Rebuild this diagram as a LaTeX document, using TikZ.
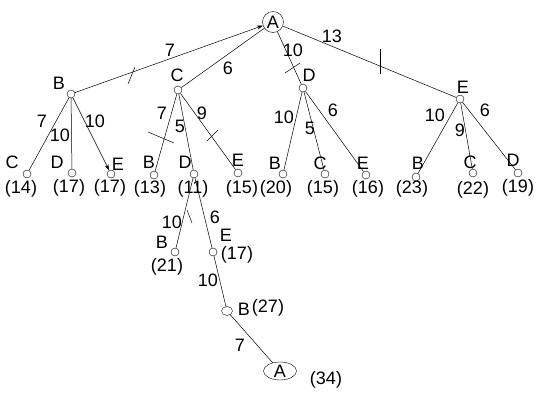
\documentclass[tikz,border=0pt]{standalone}
\usepackage{fontspec}
\setmainfont{Liberation Sans}
\usetikzlibrary{shapes.geometric,arrows.meta}
\begin{document}
\begin{tikzpicture}[x=1pt,y=-1pt,
  every node/.style={font=\fontsize{18}{20}\selectfont, inner sep=0pt},
  dot/.style={circle,draw,minimum size=8pt,inner sep=0pt},
  rootnode/.style={circle,draw,minimum size=21pt,inner sep=0pt},
  goalnode/.style={ellipse,draw,minimum width=33pt,minimum height=18pt,inner sep=0pt},
  edge/.style={draw,line width=0.5pt},
  cutmark/.style={draw,line width=0.5pt},
  tip/.style={-{Stealth[length=6pt,width=4pt]}}]
\useasboundingbox (0,0) rectangle (550,400);
% root
\node[rootnode] (nA) at (273,22) {A};
% level 1
\node[dot] (nB) at (71,94) {};
\node[dot] (nC) at (178,90) {};
\node[dot] (nD) at (303,88) {};
\node[dot] (nE) at (460,99) {};
\node (lB) at (59,83) {B};
\node (lC) at (177,75) {C};
\node (lD) at (309,75) {D};
\node (lE) at (463,87) {E};
\draw[edge,tip] (nB) -- (nA);
\draw[edge] (nA) -- (nC);
\draw[edge] (nA) -- (nD);
\draw[edge] (nA) -- (nE);
\node (wAB) at (170,50) {7};
\node (wAC) at (228,68) {6};
\node (wAD) at (293,50) {10};
\node (wAE) at (332,36) {13};
% level 2 under B
\node[dot] (bC) at (27,174) {};
\node[dot] (bD) at (72,173) {};
\node[dot] (bE) at (111,174) {};
\node (lbC) at (12,162) {C};
\node (lbD) at (57,162) {D};
\node (lbE) at (118,164) {E};
\node (kbC) at (21,189) {(14)};
\node (kbD) at (69,188) {(17)};
\node (kbE) at (110,188) {(17)};
\draw[edge] (nB) -- (bC);
\draw[edge] (nB) -- (bD);
\draw[edge,tip] (nB) -- (bE);
\node (wbC) at (42,121) {7};
\node (wbD) at (60,135) {10};
\node (wbE) at (95,121) {10};
% level 2 under C
\node[dot] (cB) at (154,175) {};
\node[dot] (cD) at (194,174) {};
\node[dot] (cE) at (238,173) {};
\node (lcB) at (149,162) {B};
\node (lcD) at (185,162) {D};
\node (lcE) at (238,160) {E};
\node (kcB) at (150,189) {(13)};
\node (kcD) at (193,189) {(11)};
\node (kcE) at (242,189) {(15)};
\draw[edge] (nC) -- (cB);
\draw[edge] (nC) -- (cD);
\draw[edge] (nC) -- (cE);
\node (wcB) at (162,113) {7};
\node (wcD) at (180,126) {5};
\node (wcE) at (202,113) {9};
% level 2 under D
\node[dot] (dB) at (283,174) {};
\node[dot] (dC) at (325,174) {};
\node[dot] (dE) at (366,175) {};
\node (ldB) at (275,163) {B};
\node (ldC) at (320,163) {C};
\node (ldE) at (363,163) {E};
\node (kdB) at (276,189) {(20)};
\node (kdC) at (323,189) {(15)};
\node (kdE) at (368,189) {(16)};
\draw[edge] (nD) -- (dB);
\draw[edge] (nD) -- (dC);
\draw[edge] (nD) -- (dE);
\node (wdB) at (284,117) {10};
\node (wdC) at (310,128) {5};
\node (wdE) at (333,110) {6};
% level 2 under E
\node[dot] (eB) at (416,177) {};
\node[dot] (eC) at (473,173) {};
\node[dot] (eD) at (518,173) {};
\node (leB) at (418,163) {B};
\node (leC) at (470,162) {C};
\node (leD) at (513,160) {D};
\node (keB) at (412,189) {(23)};
\node (keC) at (473,190) {(22)};
\node (keD) at (518,188) {(19)};
\draw[edge] (nE) -- (eB);
\draw[edge] (nE) -- (eC);
\draw[edge] (nE) -- (eD);
\node (weB) at (435,115) {10};
\node (weC) at (460,130) {9};
\node (weD) at (485,110) {6};
% level 3 under C-D
\node[dot] (cdB) at (175,252) {};
\node[dot] (cdE) at (213,252) {};
\node (lcdB) at (162,242) {B};
\node (lcdE) at (226,235) {E};
\node (kcdB) at (167,267) {(21)};
\node (kcdE) at (237,255) {(17)};
\draw[edge] (cD) -- (cdB);
\draw[edge] (cD) -- (cdE);
\node (wcdB) at (172,222) {10};
\node (wcdE) at (215,217) {6};
% level 4
\node[ellipse,draw,minimum width=11pt,minimum height=9pt,inner sep=0pt] (cdeB) at (227,311) {};
\node (lcdeB) at (244,309) {B};
\node (kcdeB) at (268,308) {(27)};
\draw[edge] (cdE) -- (cdeB);
\node (wcdeB) at (208,280) {10};
% level 5
\node[goalnode] (cdebA) at (280,371) {A};
\node (kcdebA) at (326,380) {(34)};
\draw[edge] (cdeB) -- (cdebA);
\node (wcdebA) at (240,345) {7};
% cut marks
\draw[cutmark] (128,84) -- (135,67);
\draw[cutmark] (285,73) -- (300,63);
\draw[cutmark] (380,49) -- (380,74);
\draw[cutmark] (148,132) -- (174,143);
\draw[cutmark] (207,141) -- (218,130);
\draw[cutmark] (187,210) -- (192,223);
\end{tikzpicture}
\end{document}
